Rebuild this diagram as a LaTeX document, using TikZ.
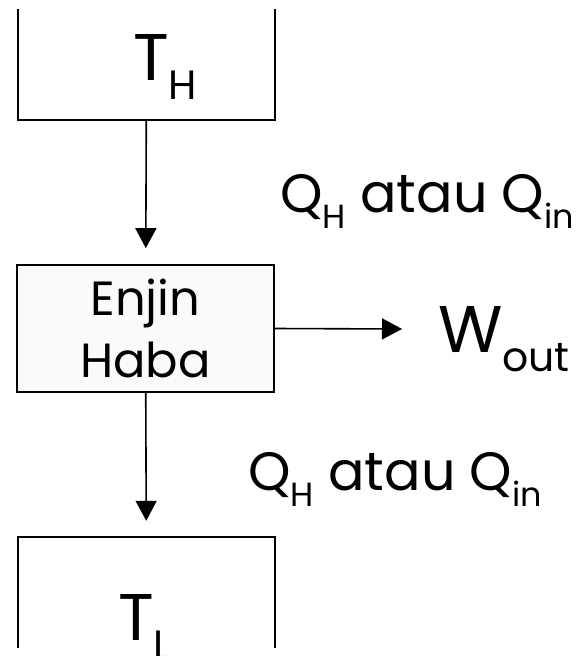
\documentclass[tikz,border=0pt]{standalone}
\usepackage{fontspec}
\setmainfont{Poppins}
\usepackage{graphicx}
\usetikzlibrary{positioning,arrows.meta}

\newcommand{\lowidx}[1]{\raisebox{-0.3em}{\scalebox{0.62}{#1}}}

\begin{document}
\begin{tikzpicture}[x=1pt, y=1pt]
    \tikzstyle{tank}=[rectangle, minimum width=257pt, minimum height=111pt, inner sep=0pt]
    \tikzstyle{walls}=[line width=2.4pt]
    \tikzstyle{engine}=[rectangle, draw=black, line width=1.6pt, fill=black!2, minimum width=257pt, minimum height=127pt, align=center, font=\fontsize{48}{62}\selectfont]
    \tikzstyle{connect}=[-{Triangle[length=20pt,width=21pt]}, line width=1.6pt, shorten >=16pt]
    \tikzstyle{work}=[-{Triangle[length=20pt,width=21pt]}, line width=1.6pt]
    \tikzstyle{temp}=[font=\fontsize{66}{70}\selectfont, inner sep=0pt, anchor=base west]
    \tikzstyle{heat}=[font=\fontsize{54}{60}\selectfont, inner sep=0pt, anchor=base west]

    \useasboundingbox (0,0) rectangle (577,-656);

    \node[tank] (hot) at (146.5,-64.5) {};
    \node[engine] (engine) at (145.5,-328.5) {Enjin\\Haba};
    \node[tank] (cold) at (146.5,-592.5) {};
    \node[temp] (th) at (133,-80) {T\lowidx{H}};
    \node[temp] (tl) at (118,-640) {T\lowidx{L}};
    \coordinate (wend) at (402,-329);
    \node[temp] (wout) at (438,-352) {W\lowidx{out}};
    \node[heat] (qin) at (280,-212) {Q\lowidx{H} atau Q\lowidx{in}};
    \node[heat] (qout) at (248,-490) {Q\lowidx{H} atau Q\lowidx{in}};

    \draw[walls] (hot.north west) -- (hot.south west) -- (hot.south east) -- (hot.north east);
    \draw[walls] (cold.south west) -- (cold.north west) -- (cold.north east) -- (cold.south east);

    \path
      (hot) edge [connect] (engine)
      (engine) edge [connect] (cold)
      (engine.east) edge [work] (wend);
\end{tikzpicture}
\end{document}
